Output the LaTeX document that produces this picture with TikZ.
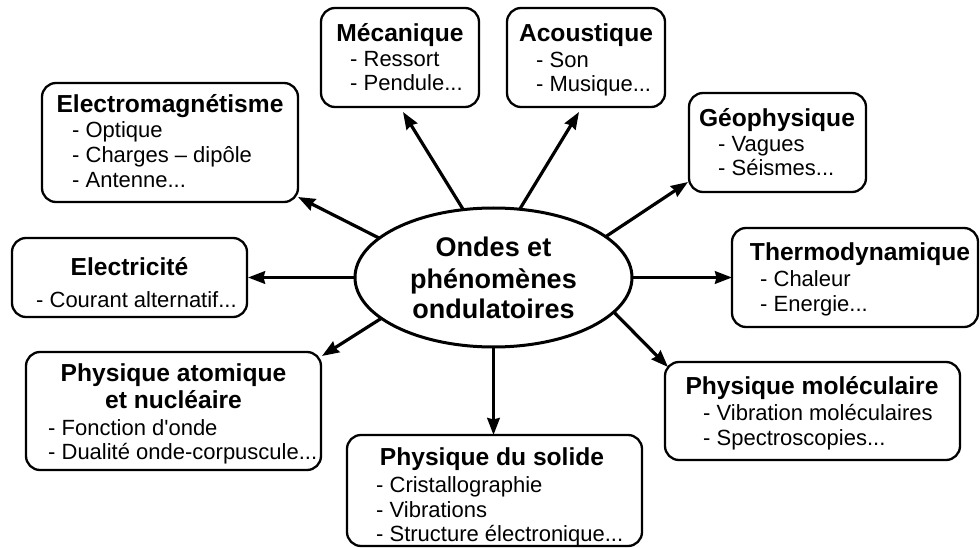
\documentclass[tikz,border=0pt]{standalone}
\usepackage{fontspec}
\setmainfont{Liberation Sans}
\usetikzlibrary{arrows.meta,calc,shapes.geometric}
\tikzset{
  box/.style={draw, line width=2.3pt, rounded corners=14pt, inner sep=0pt, outer sep=0pt},
  ttl/.style={anchor=base, inner sep=0pt, font=\fontsize{24.6}{27}\selectfont\bfseries},
  ctr/.style={anchor=base, inner sep=0pt, font=\fontsize{27}{30}\selectfont\bfseries},
  itm/.style={anchor=base west, inner sep=0pt, font=\fontsize{22}{25}\selectfont},
  arr/.style={line width=3.2pt, -{Stealth[length=17pt,width=12.5pt,inset=1.5pt]}},
}
\begin{document}
\begin{tikzpicture}[x=1pt,y=-1pt]
\useasboundingbox (0,0) rectangle (980,548);

% central ellipse
\node[draw, ellipse, line width=3pt, minimum width=277pt, minimum height=139pt, inner sep=0pt, outer sep=0pt] (ell) at (493.5,277.5) {};
\node[ctr] (c1) at (493.5,257) {Ondes et};
\node[ctr] (c2) at (493.5,288) {phénomènes};
\node[ctr] (c3) at (493.5,318) {ondulatoires};

% Mecanique
\node[box, minimum width=158pt, minimum height=99pt] (meca) at (400,57.5) {};
\node[ttl] (meca-t) at (400,42) {Mécanique};
\node[itm] (meca-1) at (350,67) {- Ressort};
\node[itm] (meca-2) at (350,91) {- Pendule...};

% Acoustique
\node[box, minimum width=158pt, minimum height=99pt] (acou) at (586,57.5) {};
\node[ttl] (acou-t) at (586,42) {Acoustique};
\node[itm] (acou-1) at (536,67.5) {- Son};
\node[itm] (acou-2) at (536,91.5) {- Musique...};

% Electromagnetisme
\node[box, minimum width=256pt, minimum height=119pt] (em) at (170,142.5) {};
\node[ttl] (em-t) at (170,113) {Electromagnétisme};
\node[itm] (em-1) at (72,138) {- Optique};
\node[itm] (em-2) at (72,163) {- Charges – dipôle};
\node[itm] (em-3) at (72,188) {- Antenne...};

% Electricite
\node[box, minimum width=235pt, minimum height=79pt] (elt) at (129.5,277.5) {};
\node[ttl] (elt-t) at (129.5,275) {Electricité};
\node[itm] (elt-1) at (36,307) {- Courant alternatif...};

% Geophysique
\node[box, minimum width=177pt, minimum height=99pt] (geo) at (777.5,142.5) {};
\node[ttl] (geo-t) at (777,127) {Géophysique};
\node[itm] (geo-1) at (718,152) {- Vagues};
\node[itm] (geo-2) at (718,176) {- Séismes...};

% Thermodynamique
\node[box, minimum width=246pt, minimum height=99pt] (thermo) at (855,277.5) {};
\node[ttl] (thermo-t) at (860,260) {Thermodynamique};
\node[itm] (thermo-1) at (760,287) {- Chaleur};
\node[itm] (thermo-2) at (760,311) {- Energie...};

% Physique moleculaire
\node[box, minimum width=295pt, minimum height=98pt] (mol) at (812.5,411) {};
\node[ttl] (mol-t) at (812,394) {Physique moléculaire};
\node[itm] (mol-1) at (703,420) {- Vibration moléculaires};
\node[itm] (mol-2) at (703,445) {- Spectroscopies...};

% Physique atomique
\node[box, minimum width=295pt, minimum height=118pt] (atom) at (173.5,411) {};
\node[ttl] (atom-t1) at (173.5,381) {Physique atomique};
\node[ttl] (atom-t2) at (173.5,408) {et nucléaire};
\node[itm] (atom-1) at (48,435) {- Fonction d\textquotesingle onde};
\node[itm] (atom-2) at (48,459) {- Dualité onde-corpuscule...};

% Physique du solide
\node[box, minimum width=295pt, minimum height=111pt] (sol) at (494.5,490.5) {};
\node[ttl] (sol-t) at (492,465) {Physique du solide};
\node[itm] (sol-1) at (376,492) {- Cristallographie};
\node[itm] (sol-2) at (376,517) {- Vibrations};
\node[itm] (sol-3) at (376,541) {- Structure électronique...};

% arrows
\draw[arr] (ell.114.4) -- ($(meca.south)+(3,5)$);
\draw[arr] (ell.69.1) -- ($(acou.south)+(-7,5)$);
\draw[arr] (ell.161.3) -- ($(em.south east)+(0,-5)$);
\draw[arr] (ell.180) -- ($(elt.east)+(1,0)$);
\draw[arr] (ell.20.9) -- ($(geo.south west)+(-1,-10)$);
\draw[arr] (ell.0) -- (thermo.west);
\draw[arr] (ell.-16.5) -- ($(mol.north west)+(3,5)$);
\draw[arr] (ell.south) -- (ell.south |- sol.north);
\draw[arr] (ell.200.1) -- ($(atom.north east)+(1,4)$);
\end{tikzpicture}
\end{document}
